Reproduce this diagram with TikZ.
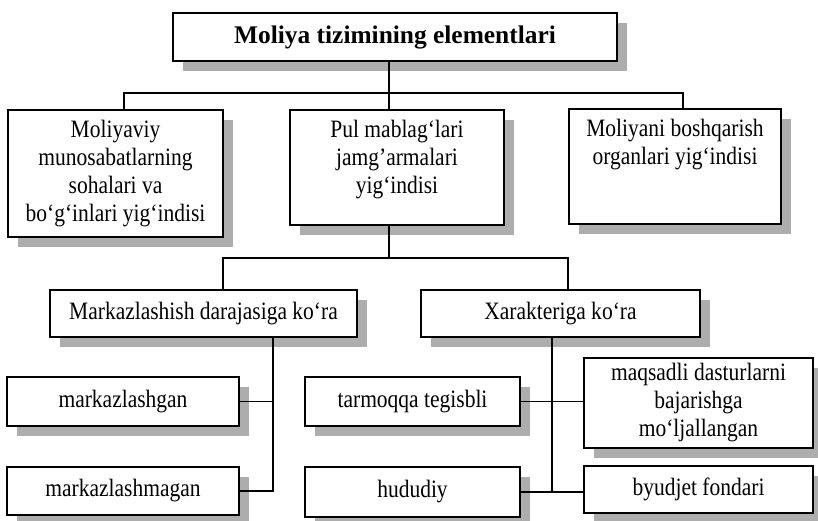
\documentclass[tikz,border=0pt]{standalone}
\usepackage{fontspec}
\setmainfont[FakeStretch=0.86]{Liberation Serif}
\newfontfamily\titlefont{Liberation Serif}
\usetikzlibrary{positioning, shadows}

\begin{document}
\begin{tikzpicture}[x=0.5pt, y=-0.5pt]

\tikzset{box/.style = {draw, line width=0.8pt, fill=white, inner sep=0pt, align=center,
  font=\fontsize{12.5}{14}\selectfont,
  drop shadow={shadow xshift=5pt, shadow yshift=-5pt, fill=black!32, opacity=1}}}
\tikzset{boxtext/.style = {align=center, inner sep=0pt, font=\fontsize{12.5}{14}\selectfont}}
\tikzset{every path/.style = {line width=0.6pt}}

\useasboundingbox (0,0) rectangle (818,520);
% boxes
\node[box, minimum width=222pt, minimum height=24pt, font=\titlefont\fontsize{12.7}{15}\selectfont\bfseries] (title) at (395,37) {Moliya tizimining elementlari};
\node[box, minimum width=107.5pt, minimum height=63.5pt] (soha) at (115.5,173.5) {Moliyaviy\\munosabatlarning\\sohalari va\\bo‘g‘inlari yig‘indisi};
\node[box, minimum width=107pt, minimum height=57.5pt] (pul) at (397,167.5) {};
\node[boxtext, below=5pt of pul.north] (pultext) {Pul mablag‘lari\\jamg'armalari\\yig‘indisi};
\node[box, minimum width=106pt, minimum height=57.5pt] (organ) at (675,166.5) {};
\node[boxtext, below=5pt of organ.north] (organtext) {Moliyani boshqarish\\organlari yig‘indisi};
\node[box, minimum width=153.5pt, minimum height=23.5pt] (markaz) at (203.5,313.5) {Markazlashish darajasiga ko‘ra};
\node[box, minimum width=139.5pt, minimum height=23.5pt] (xarakter) at (560.5,313.5) {Xarakteriga ko‘ra};
\node[box, minimum width=116pt, minimum height=24.5pt] (mgan) at (123,401.5) {markazlashgan};
\node[box, minimum width=116pt, minimum height=24pt] (mmagan) at (123,491) {markazlashmagan};
\node[box, minimum width=107.5pt, minimum height=24.5pt] (tarmoq) at (412.5,401.5) {tarmoqqa tegisbli};
\node[box, minimum width=107.5pt, minimum height=25pt] (hudud) at (412.5,492) {hududiy};
\node[box, minimum width=114.5pt, minimum height=45pt] (maqsad) at (698.5,403) {maqsadli dasturlarni\\bajarishga\\mo‘ljallangan};
\node[box, minimum width=114.5pt, minimum height=23.5pt] (byudjet) at (698.5,489.5) {byudjet fondari};

% junctions
\coordinate (bus) at (389,93);
\coordinate (busL) at (124,93);
\coordinate (busR) at (683,93);
\coordinate (bus2L) at (223,258);
\coordinate (bus2R) at (568,258);
\coordinate (mv) at (273,0);
\coordinate (xv) at (552,0);

% lines
\draw (title.south -| bus) -- (pul.north -| bus);
\draw (soha.north -| busL) -- (busL) -- (busR) -- (organ.north -| busR);
\draw (pul.south -| bus) -- (bus |- bus2L);
\draw (markaz.north -| bus2L) -- (bus2L) -- (bus2R) -- (xarakter.north -| bus2R);
\draw (markaz.south -| mv) -- (mv |- mmagan.east) -- (mmagan.east);
\draw (mgan.east) -- (mgan.east -| mv);
\draw (xarakter.south -| xv) -- (xv |- hudud.east);
\draw (tarmoq.east) -- (tarmoq.east -| maqsad.west);
\draw (hudud.east) -- (hudud.east -| byudjet.west);
\end{tikzpicture}
\end{document}
